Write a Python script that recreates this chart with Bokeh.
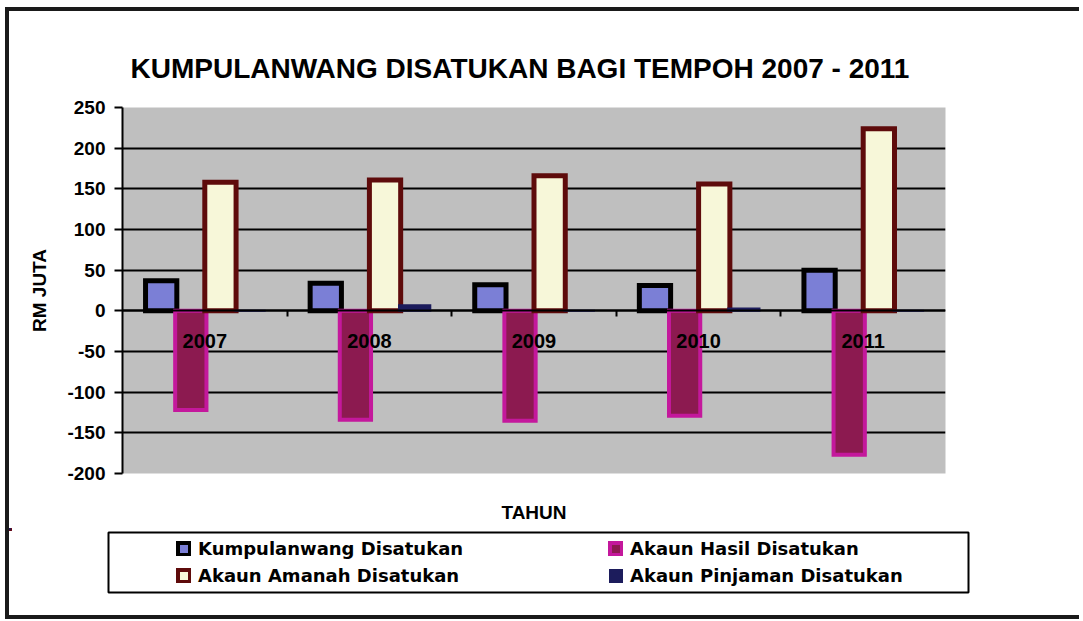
import numpy as np
from bokeh.plotting import figure
from bokeh.layouts import column
from bokeh.models import (ColumnDataSource, LinearAxis, FixedTicker, Legend, LegendItem,
                          BoxAnnotation, Range1d)
from bokeh.embed import file_html
from bokeh.resources import INLINE

# ---- data (RM juta) ----
years = ["2007", "2008", "2009", "2010", "2011"]
kumpulanwang = [37, 34, 32, 31, 50]
akaun_hasil = [-122, -134, -135, -129, -177]
akaun_amanah = [158, 161, 166, 156, 224]
akaun_pinjaman = [0, 7, 0, 3, 0]
y_ticks = [-200, -150, -100, -50, 0, 50, 100, 150, 200, 250]

series_names = ["Kumpulanwang Disatukan", "Akaun Hasil Disatukan",
                "Akaun Amanah Disatukan", "Akaun Pinjaman Disatukan"]
series_vals = [kumpulanwang, akaun_hasil, akaun_amanah, akaun_pinjaman]
fills = ["#7b7fd6", "#8c1a50", "#f7f7d9", "#1c1c5c"]
lines = ["#000000", "#c4189c", "#5e0b0b", "#1c1c5c"]
lwidths = [5, 4, 5, 2]

FONT = "Liberation Sans"
W = 1070

# ---------------- main chart ----------------
p = figure(width=W, height=517, x_range=(0.5, 5.5), y_range=(-200, 250),
           output_backend="svg", toolbar_location=None, x_axis_location=None,
           min_border_left=113, min_border_right=W - 113 - 823, min_border_top=96,
           min_border_bottom=55)
p.frame_align = False
p.background_fill_color = "#bfbfbf"
p.border_fill_color = "white"
p.outline_line_color = None

p.title.text = "KUMPULANWANG DISATUKAN BAGI TEMPOH 2007 - 2011"
p.title.text_font = FONT
p.title.text_font_size = "28px"
p.title.text_font_style = "bold"
p.title.text_color = "black"
p.title.align = "left"
p.title.offset = 8
p.title.standoff = 48

p.xgrid.visible = False
p.ygrid.ticker = FixedTicker(ticks=y_ticks)
p.ygrid.grid_line_color = "black"
p.ygrid.grid_line_width = 2
p.ygrid.grid_line_alpha = 1

yax = p.yaxis[0]
yax.ticker = FixedTicker(ticks=y_ticks)
yax.major_label_overrides = {t: str(t) for t in y_ticks}
yax.axis_label = "RM JUTA"
yax.axis_label_text_font = FONT
yax.axis_label_text_font_style = "bold"
yax.axis_label_text_font_size = "19px"
yax.axis_label_text_color = "black"
yax.axis_label_standoff = 14
yax.major_label_text_font = FONT
yax.major_label_text_font_style = "bold"
yax.major_label_text_font_size = "19px"
yax.major_label_text_color = "black"
yax.major_label_standoff = 9
yax.major_tick_out = 8
yax.major_tick_in = 0
yax.major_tick_line_width = 2
yax.major_tick_line_color = "black"
yax.minor_tick_line_color = None
yax.axis_line_width = 2
yax.axis_line_color = "black"

n = len(years)
step = 0.18
bar_w = 0.19
sources = []
for i, (name, vals) in enumerate(zip(series_names, series_vals)):
    xs = np.arange(1, n + 1) + (i - 1.5) * step + 0.005
    src = ColumnDataSource(dict(x=xs, top=vals, year=years))
    sources.append(src)
    p.vbar(x="x", top="top", bottom=0, width=bar_w, source=src,
           fill_color=fills[i], line_color=lines[i], line_width=lwidths[i],
           line_join="miter")

tahun_ax = LinearAxis(ticker=FixedTicker(ticks=[]), axis_label="TAHUN",
                      axis_line_color=None, major_tick_line_color=None,
                      minor_tick_line_color=None, major_label_text_font_size="0px",
                      axis_label_text_font=FONT, axis_label_text_font_style="bold",
                      axis_label_text_font_size="19px", axis_label_text_color="black",
                      axis_label_standoff=28)
p.add_layout(tahun_ax, "below")

cat_ax = LinearAxis(fixed_location=0,
                    ticker=FixedTicker(ticks=list(range(1, n + 1)),
                                       minor_ticks=[k + 0.5 for k in range(1, n)]),
                    major_label_overrides={k + 1: y for k, y in enumerate(years)},
                    major_tick_in=0, major_tick_out=0,
                    minor_tick_in=0, minor_tick_out=6, minor_tick_line_width=2,
                    minor_tick_line_color="black",
                    axis_line_color="black", axis_line_width=2,
                    major_label_standoff=17,
                    major_label_text_font=FONT, major_label_text_font_style="bold",
                    major_label_text_font_size="20px", major_label_text_color="black")
p.add_layout(cat_ax, "below")

# ---------------- legend strip ----------------
# same series sources, in ranges where the bars fall far out of view;
# only the legend and its box show in this strip
LH = 87
X0, Y0 = 1000, 1000
lf = figure(width=W, height=LH, x_range=Range1d(X0, X0 + W), y_range=Range1d(Y0 + LH, Y0),
            output_backend="svg", toolbar_location=None,
            x_axis_location=None, y_axis_location=None, min_border=0)
lf.frame_align = False
lf.grid.visible = False
lf.outline_line_color = None
lf.background_fill_color = "white"
lf.border_fill_color = "white"

items = []
for i, name in enumerate(series_names):
    r = lf.vbar(x="x", top="top", bottom=0, width=bar_w, source=sources[i],
                fill_color=fills[i], line_color=lines[i],
                line_width=min(lwidths[i], 4), line_join="miter")
    items.append(LegendItem(label=name, renderers=[r]))

lf.add_layout(BoxAnnotation(left=X0 + 99, right=X0 + 959, top=Y0 + 4, bottom=Y0 + 64,
                            fill_alpha=0, line_color="black", line_width=2, line_alpha=1))

legend = Legend(items=items, location=(163, 24), orientation="horizontal", ncols=2,
                glyph_width=15, glyph_height=15, label_width=407, label_height=24,
                label_standoff=7, spacing=3, padding=4, margin=0,
                border_line_alpha=0, background_fill_alpha=0,
                label_text_font="DejaVu Sans", label_text_font_style="bold",
                label_text_font_size="18px", label_text_color="black")
lf.add_layout(legend, "center")

layout = column(p, lf, spacing=0,
                styles={"border-top": "4px solid #1a1a1a", "border-left": "4px solid #1a1a1a",
                        "border-bottom": "4px solid #1a1a1a", "margin-top": "7px",
                        "margin-left": "5px"})

open("out.html", "w").write(file_html(layout, INLINE))
